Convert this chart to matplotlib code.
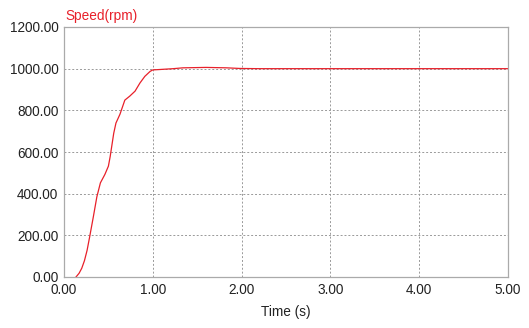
import matplotlib
matplotlib.use("Agg")
import matplotlib.pyplot as plt
import numpy as np

plt.rcParams["font.family"] = ["Liberation Sans", "DejaVu Sans"]

# speed response
time_s = [0.135, 0.17, 0.20, 0.23, 0.26, 0.29, 0.33, 0.37, 0.385, 0.41, 0.46,
          0.50, 0.52, 0.535, 0.56, 0.585, 0.63, 0.685, 0.74, 0.80, 0.855, 0.91,
          0.97, 1.00, 1.08, 1.23, 1.34, 1.60, 1.83, 1.98, 2.20, 3.00, 4.00, 5.00]
speed_rpm = [0, 18, 42, 78, 128, 195, 288, 385, 410, 452, 492,
             532, 578, 620, 690, 739, 781, 849, 868, 892, 931, 963,
             987, 994, 996, 1000, 1004, 1006, 1004, 1001, 1000, 1000, 1000, 1000]

xticks = [0, 1, 2, 3, 4, 5]
yticks = [0, 200, 400, 600, 800, 1000, 1200]

fig = plt.figure(figsize=(5.29, 3.28), dpi=100)
ax = fig.add_axes([64 / 529, 1 - 277 / 328, 444 / 529, 250 / 328])

ax.plot(time_s, speed_rpm, color="#e8202a", lw=0.9)

ax.set_xlim(0, 5)
ax.set_ylim(0, 1200)
ax.set_xticks(xticks)
ax.set_yticks(yticks)
ax.set_xticklabels([f"{v:.2f}" for v in xticks])
ax.set_yticklabels([f"{v:.2f}" for v in yticks])
ax.tick_params(length=0, labelsize=9.8, colors="#222222", pad=4)
ax.grid(True, color="#999999", ls=(0, (2, 2)), lw=0.7)
for s in ax.spines.values():
    s.set_color("#aaaaaa")
    s.set_linewidth(0.9)

ax.set_xlabel("Time (s)", fontsize=9.8, color="#222222", labelpad=6)
fig.text(65 / 529, 1 - 16 / 328, "Speed(rpm)", color="#e8202a", fontsize=9.8,
         ha="left", va="center")

fig.savefig("out.png", dpi=100)
